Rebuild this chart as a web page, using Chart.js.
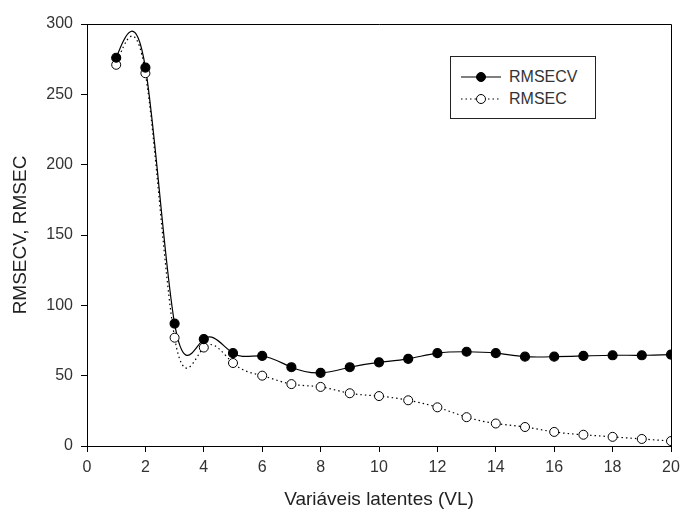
<!DOCTYPE html>
<html lang="pt">

<head>
    <meta charset="UTF-8">
    <title>RMSECV x RMSEC</title>
    <style>
        body { margin: 0; background: #fff; }
        #caixa { position: relative; width: 680px; height: 514px; }
        #legenda {
            position: absolute; left: 450px; top: 56px; width: 144px; height: 61px;
            border: 1px solid #222; background: #fff;
            font-family: "Liberation Sans", Arial, sans-serif; font-size: 16px; color: #333;
        }
        .item { position: absolute; left: 10px; height: 20px; display: flex; align-items: center; }
        .item svg { margin-right: 8px; }
    </style>
    <script src="https://cdn.jsdelivr.net/npm/chart.js"></script>
</head>

<body>
    <div id="caixa">
        <canvas id="grafico1" width="680" height="514"></canvas>
        <div id="legenda"></div>
    </div>

    <script>
        const variaveis = [1, 2, 3, 4, 5, 6, 7, 8, 9, 10, 11, 12, 13, 14, 15, 16, 17, 18, 19, 20]
        const rmsecv = [276, 269, 87, 76, 66, 64, 56, 52, 56, 59.5, 62, 66, 67, 66, 63.5, 63.5, 64, 64.5, 64.5, 65]
        const rmsec = [271, 265, 77, 70, 59, 50, 44, 42, 37.5, 35.5, 32.5, 27.5, 20.5, 16, 13.5, 10, 8, 6.5, 5, 3.5]
        const ticksY = [0, 50, 100, 150, 200, 250, 300]
        const ticksX = [0, 2, 4, 6, 8, 10, 12, 14, 16, 18, 20]

        const fonte = "'Liberation Sans', Arial, sans-serif"
        const pontos = (ys) => variaveis.map((x, i) => ({ x: x, y: ys[i] }))

        // spline cubica natural (como no SigmaPlot): segundas derivadas
        const segundas = (xs, ys) => {
            const n = xs.length
            const M = new Array(n).fill(0)
            const a = [], b = [], c = [], d = []
            for (let i = 1; i < n - 1; i++) {
                const h0 = xs[i] - xs[i - 1], h1 = xs[i + 1] - xs[i]
                a.push(h0); b.push(2 * (h0 + h1)); c.push(h1)
                d.push(6 * ((ys[i + 1] - ys[i]) / h1 - (ys[i] - ys[i - 1]) / h0))
            }
            const m = b.length
            for (let i = 1; i < m; i++) {
                const w = a[i] / b[i - 1]
                b[i] -= w * c[i - 1]
                d[i] -= w * d[i - 1]
            }
            const sol = new Array(m)
            for (let i = m - 1; i >= 0; i--) {
                sol[i] = (d[i] - (i < m - 1 ? c[i] * sol[i + 1] : 0)) / b[i]
            }
            for (let i = 0; i < m; i++) M[i + 1] = sol[i]
            return M
        }

        const curvas = {
            id: 'curvas',
            beforeDatasetsDraw(chart) {
                const sx = chart.scales.x, sy = chart.scales.y
                const c = chart.ctx
                chart.data.datasets.forEach(ds => {
                    const xs = ds.data.map(p => p.x), ys = ds.data.map(p => p.y)
                    const M = segundas(xs, ys)
                    c.save()
                    c.strokeStyle = ds.borderColor
                    c.lineWidth = ds.borderWidth
                    c.setLineDash(ds.borderDash || [])
                    c.beginPath()
                    c.moveTo(sx.getPixelForValue(xs[0]), sy.getPixelForValue(ys[0]))
                    for (let i = 0; i < xs.length - 1; i++) {
                        const h = xs[i + 1] - xs[i]
                        const inc = (ys[i + 1] - ys[i]) / h
                        const s0 = inc - h * (2 * M[i] + M[i + 1]) / 6
                        const s1 = inc + h * (M[i] + 2 * M[i + 1]) / 6
                        c.bezierCurveTo(
                            sx.getPixelForValue(xs[i] + h / 3), sy.getPixelForValue(ys[i] + s0 * h / 3),
                            sx.getPixelForValue(xs[i + 1] - h / 3), sy.getPixelForValue(ys[i + 1] - s1 * h / 3),
                            sx.getPixelForValue(xs[i + 1]), sy.getPixelForValue(ys[i + 1]))
                    }
                    c.stroke()
                    c.restore()
                })
            }
        }

        // moldura superior e direita
        const moldura = {
            id: 'moldura',
            afterDraw(chart) {
                const a = chart.chartArea
                const c = chart.ctx
                c.save()
                c.strokeStyle = '#000'
                c.lineWidth = 1
                c.beginPath()
                c.moveTo(a.left, a.top + 0.5)
                c.lineTo(a.right + 0.5, a.top + 0.5)
                c.lineTo(a.right + 0.5, a.bottom)
                c.stroke()
                c.restore()
            }
        }

        const ctx = document.getElementById('grafico1')

        const grafico1 = new Chart(ctx, {
            type: 'line',
            data: {
                datasets: [{
                    label: 'RMSECV',
                    data: pontos(rmsecv),
                    showLine: false,
                    borderColor: '#000',
                    borderWidth: 1.2,
                    backgroundColor: '#000',
                    pointBackgroundColor: '#000',
                    pointBorderColor: '#000',
                    pointRadius: 4.5
                }, {
                    label: 'RMSEC',
                    data: pontos(rmsec),
                    showLine: false,
                    borderColor: '#000',
                    borderWidth: 1.2,
                    borderDash: [1.5, 3],
                    backgroundColor: '#fff',
                    pointBackgroundColor: '#fff',
                    pointBorderColor: '#000',
                    pointBorderWidth: 1,
                    pointRadius: 4.5
                }]
            },
            options: {
                responsive: false,
                animation: false,
                layout: { padding: { top: 24, right: 0, bottom: 0, left: 0 } },
                plugins: {
                    legend: { display: false },
                    tooltip: { enabled: false }
                },
                scales: {
                    x: {
                        type: 'linear',
                        min: 0,
                        max: 20,
                        afterBuildTicks: (s) => { s.ticks = ticksX.map(v => ({ value: v })) },
                        afterFit: (s) => { s.height = 68; s.paddingRight = 9; s.paddingLeft = 0 },
                        grid: { drawOnChartArea: false, tickLength: 6, color: '#000' },
                        border: { color: '#000', width: 1 },
                        ticks: { color: '#333', padding: 6, maxRotation: 0, font: { family: fonte, size: 16 } },
                        title: {
                            display: true,
                            text: 'Variáveis latentes (VL)',
                            color: '#222',
                            padding: { top: 0, bottom: 3 },
                            font: { family: fonte, size: 19 }
                        }
                    },
                    y: {
                        min: 0,
                        max: 300,
                        afterBuildTicks: (s) => { s.ticks = ticksY.map(v => ({ value: v })) },
                        afterFit: (s) => { s.width = 87 },
                        grid: { drawOnChartArea: false, tickLength: 6, color: '#000' },
                        border: { color: '#000', width: 1 },
                        ticks: { color: '#333', padding: 8, font: { family: fonte, size: 16 } },
                        title: {
                            display: true,
                            text: 'RMSECV, RMSEC',
                            color: '#222',
                            padding: { top: 9, bottom: 0 },
                            font: { family: fonte, size: 19 }
                        }
                    }
                }
            },
            plugins: [curvas, moldura]
        })

        // legenda em HTML com linha + marcador
        const legenda = document.getElementById('legenda')
        grafico1.data.datasets.forEach((ds, i) => {
            const item = document.createElement('div')
            item.className = 'item'
            item.style.top = (10 + i * 22) + 'px'
            const tracejado = ds.borderDash ? 'stroke-dasharray="1.5 3"' : ''
            item.innerHTML =
                '<svg width="40" height="14"><line x1="0" y1="7" x2="40" y2="7" stroke="#000" stroke-width="1.2" ' + tracejado + '/>' +
                '<circle cx="20" cy="7" r="4.5" fill="' + ds.pointBackgroundColor + '" stroke="#000" stroke-width="1"/></svg>' +
                '<span>' + ds.label + '</span>'
            legenda.appendChild(item)
        })
    </script>
</body>

</html>
